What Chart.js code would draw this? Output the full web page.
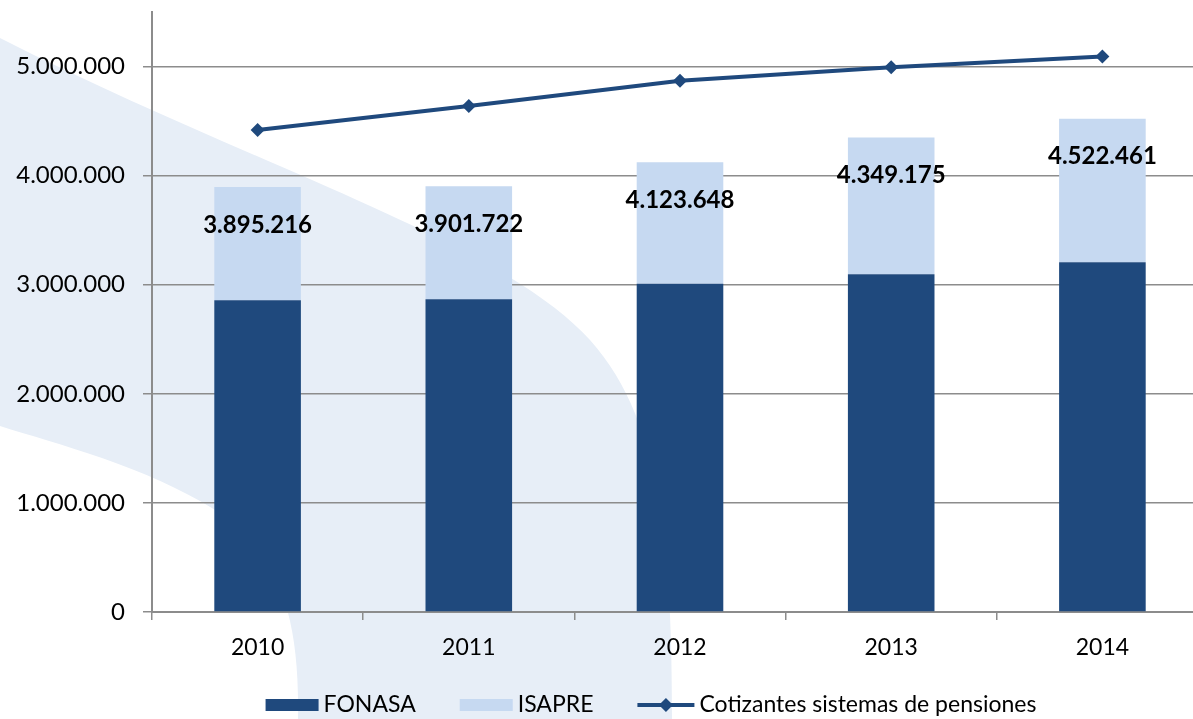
<!DOCTYPE html>
<html>
<head>
<meta charset="utf-8">
<script src="https://cdn.jsdelivr.net/npm/chart.js@4.4.1/dist/chart.umd.min.js"></script>
<style>
    html, body { margin: 0; padding: 0; overflow: hidden; background: #fff; }
    #wrap { position: relative; width: 1193px; height: 719px; overflow: hidden; }
    #bg { position: absolute; left: 0; top: 0; }
    #box { position: absolute; left: 0; top: 0; width: 1215px; height: 719px; }
</style>
</head>
<body>
<div id="wrap">
    <svg id="bg" width="1193" height="719">
        <path d="M0,38 C250,165 500,240 590,340 C660,418 672,540 672,719 L298,719 C300,620 280,560 230,520 C160,470 60,445 0,426 Z" fill="#e7eef7"/>
    </svg>
    <div id="box"><canvas id="chart"></canvas></div>
</div>
<script>
// data
const years = ['2010', '2011', '2012', '2013', '2014'];
const totals = [3895216, 3901722, 4123648, 4349175, 4522461];
const fonasa = [2857000, 2866000, 3010000, 3095000, 3205000];
const isapre = totals.map((t, i) => t - fonasa[i]);
const cotizantes = [4418000, 4639000, 4870000, 4994000, 5092000];
const yTicks = [0, 1000000, 2000000, 3000000, 4000000, 5000000];
const yMax = 5500000;
const legendNames = ['FONASA', 'ISAPRE', 'Cotizantes sistemas de pensiones'];

const darkBlue = '#1f497d';
const lightBlue = '#c6d9f1';
const gridGrey = '#8c8c8c';

function fmt(n) {
    return String(n).replace(/\B(?=(\d{3})+(?!\d))/g, '.');
}

// total labels inside the bars
const totalLabels = {
    id: 'totalLabels',
    afterDatasetsDraw(chart) {
        const ctx = chart.ctx;
        const meta = chart.getDatasetMeta(0);
        const y = chart.scales.y;
        ctx.save();
        ctx.font = 'bold 24px Lato';
        ctx.fillStyle = '#000';
        ctx.textAlign = 'center';
        ctx.textBaseline = 'middle';
        totals.forEach((t, i) => {
            ctx.fillText(fmt(t), meta.data[i].x, y.getPixelForValue(t) + 38);
        });
        ctx.restore();
    }
};

// legend drawn by hand to get the Excel look
const bottomLegend = {
    id: 'bottomLegend',
    afterDraw(chart) {
        const ctx = chart.ctx;
        const cy = 705;
        ctx.save();
        ctx.font = '23px Lato';
        ctx.textBaseline = 'middle';
        const markW = [53, 53, 57];
        const gapText = 5, gapItem = 44;
        let total = 0;
        legendNames.forEach((n, i) => {
            total += markW[i] + gapText + ctx.measureText(n).width;
            if (i < legendNames.length - 1) total += gapItem;
        });
        let x = 651 - total / 2;
        legendNames.forEach((n, i) => {
            if (i < 2) {
                ctx.fillStyle = i === 0 ? darkBlue : lightBlue;
                ctx.fillRect(x, cy - 6, markW[i], 12);
            } else {
                ctx.strokeStyle = darkBlue;
                ctx.lineWidth = 4;
                ctx.beginPath();
                ctx.moveTo(x, cy);
                ctx.lineTo(x + markW[i], cy);
                ctx.stroke();
                const mx = x + markW[i] / 2;
                ctx.fillStyle = darkBlue;
                ctx.beginPath();
                ctx.moveTo(mx, cy - 7);
                ctx.lineTo(mx + 7, cy);
                ctx.lineTo(mx, cy + 7);
                ctx.lineTo(mx - 7, cy);
                ctx.closePath();
                ctx.fill();
            }
            x += markW[i] + gapText;
            ctx.fillStyle = '#000';
            ctx.fillText(n, x, cy);
            x += ctx.measureText(n).width + gapItem;
        });
        ctx.restore();
    }
};

const ctx = document.getElementById('chart').getContext('2d');
new Chart(ctx, {
    type: 'bar',
    data: {
        labels: years,
        datasets: [
            {
                label: legendNames[0],
                data: fonasa,
                backgroundColor: darkBlue,
                stack: 'bars',
                order: 1,
                categoryPercentage: 1,
                barPercentage: 0.41
            },
            {
                label: legendNames[1],
                data: isapre,
                backgroundColor: lightBlue,
                stack: 'bars',
                order: 2,
                categoryPercentage: 1,
                barPercentage: 0.41
            },
            {
                type: 'line',
                label: legendNames[2],
                data: cotizantes,
                borderColor: darkBlue,
                backgroundColor: darkBlue,
                borderWidth: 4,
                pointStyle: 'rectRot',
                pointRadius: 7,
                pointBorderWidth: 0,
                tension: 0,
                stack: 'line',
                order: 0
            }
        ]
    },
    options: {
        responsive: true,
        maintainAspectRatio: false,
        animation: false,
        layout: { padding: { left: 0, right: 4, top: 12, bottom: 57 } },
        plugins: {
            legend: { display: false },
            tooltip: { enabled: false }
        },
        scales: {
            x: {
                stacked: true,
                grid: { drawOnChartArea: false, drawTicks: true, tickLength: 8, color: gridGrey, lineWidth: 1.5 },
                border: { color: gridGrey, width: 2 },
                ticks: { color: '#000', font: { family: 'Lato', size: 23 }, padding: 14 },
                afterFit: s => {
                    s.height = 50;
                    s.paddingLeft = 0;
                    s.paddingRight = 0;
                }
            },
            y: {
                stacked: true,
                min: 0,
                max: yMax,
                afterBuildTicks: s => { s.ticks = yTicks.map(v => ({ value: v })); },
                ticks: {
                    color: '#000',
                    font: { family: 'Lato', size: 24 },
                    padding: 18,
                    callback: v => fmt(v)
                },
                grid: { color: gridGrey, lineWidth: 1.5, tickLength: 9 },
                border: { color: gridGrey, width: 2 },
                afterFit: s => {
                    s.width = 152;
                    s.paddingTop = 0;
                    s.paddingBottom = 0;
                }
            }
        }
    },
    plugins: [totalLabels, bottomLegend]
});
</script>
</body>
</html>
